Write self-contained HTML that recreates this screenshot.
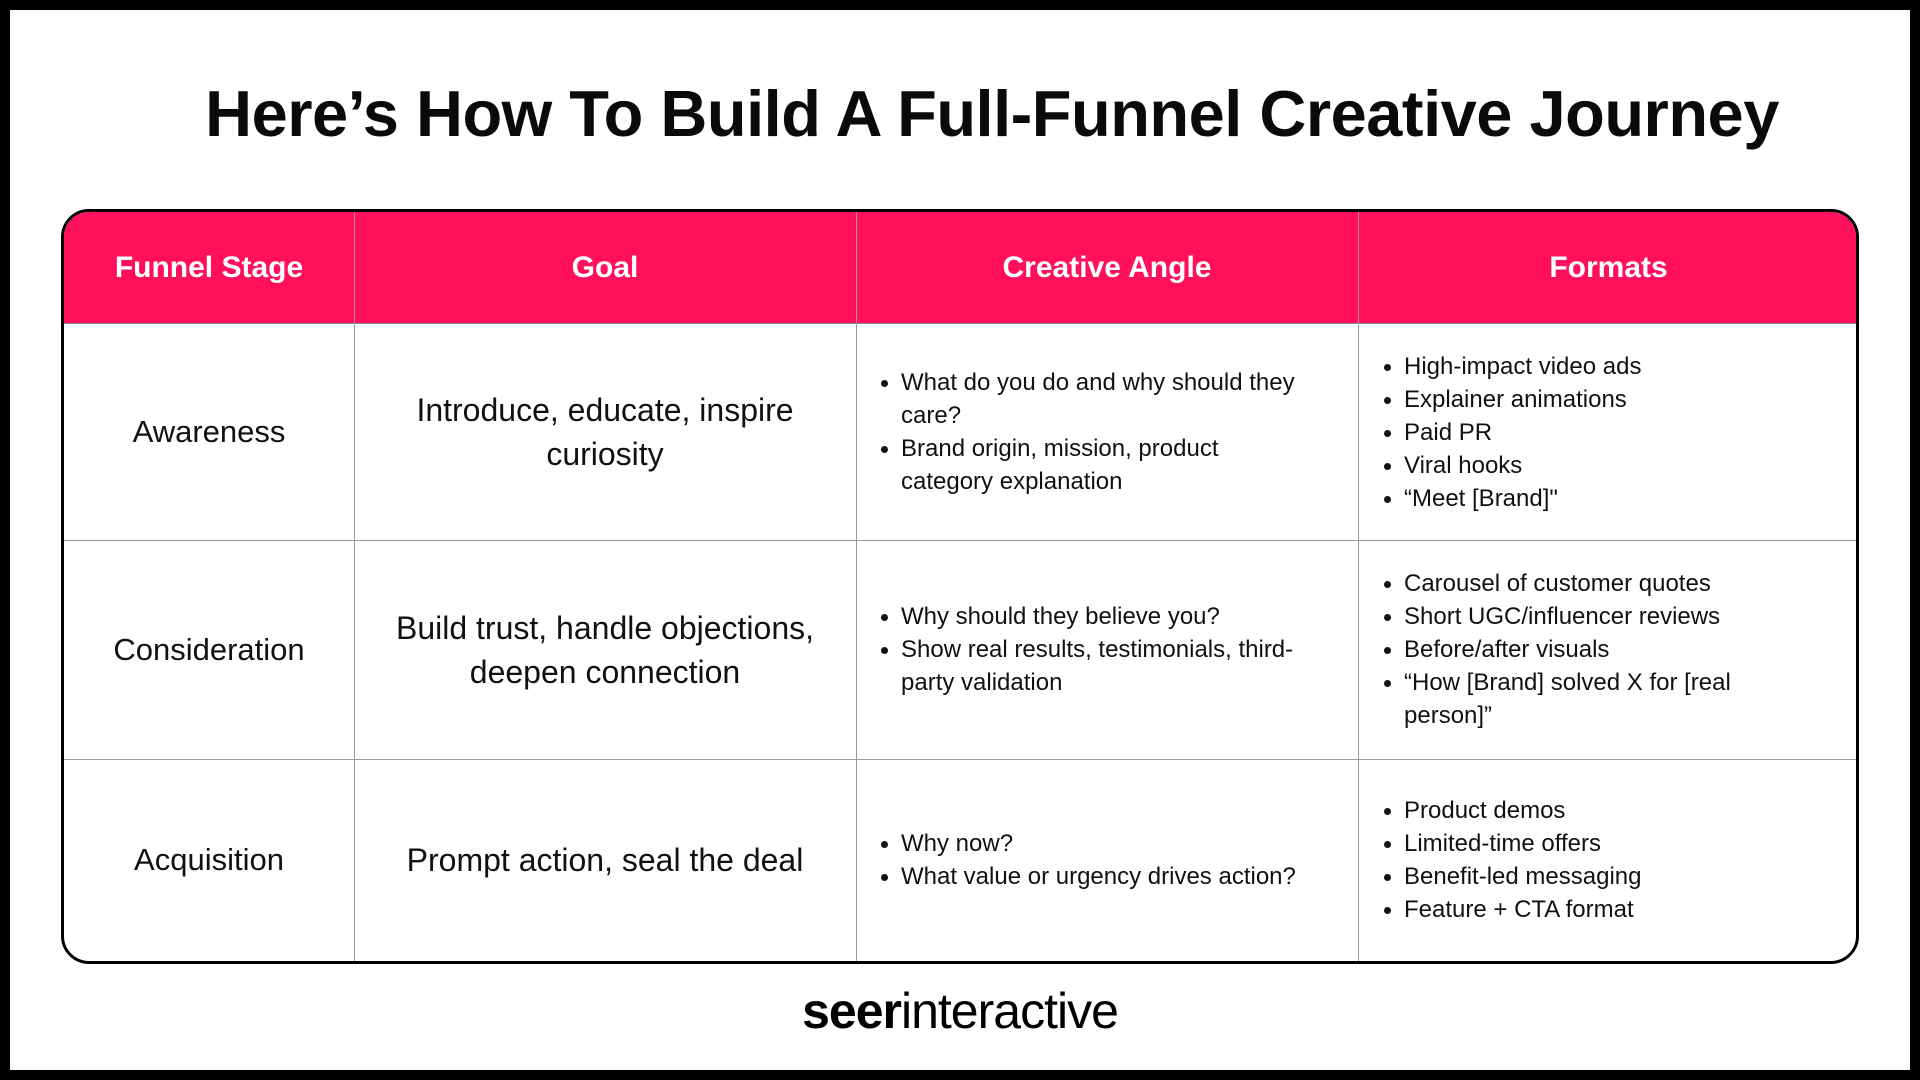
<!DOCTYPE html>
<html><head><meta charset="utf-8"><style>
*{margin:0;padding:0;box-sizing:border-box}
html,body{width:1920px;height:1080px;overflow:hidden;background:#fff}
body{position:relative;font-family:"Liberation Sans",sans-serif;color:#111}
.frame{position:absolute;left:0;top:0;width:1920px;height:1080px;border:10px solid #000}
h1{position:absolute;left:32px;width:1920px;top:76px;text-align:center;font-size:65px;font-weight:700;letter-spacing:-0.5px;color:#0a0a0a}
.tbl{position:absolute;left:61px;top:209px;width:1798px;height:755px;border:3px solid #000;border-radius:28px;overflow:hidden;background:#fff}
.hdr{position:absolute;left:0;top:0;width:100%;height:112px;background:#ff0f5c;border-bottom:1px solid #888}
.c{position:absolute;display:flex;align-items:center;justify-content:center;text-align:center}
.h{color:#fff;font-weight:700;font-size:30px;top:0;height:112px}
.vl{position:absolute;top:0;bottom:0;width:1px;background:#999}
.hl{position:absolute;left:0;right:0;height:1px;background:#999}
.st{font-size:31px}
.goal{font-size:32px;line-height:44px}
ul{list-style:none;text-align:left;font-size:24px;line-height:33px}
li{position:relative;padding-left:22px}
li:before{content:"";position:absolute;left:2px;top:14px;width:7px;height:7px;border-radius:50%;background:#111}
.l{justify-content:flex-start}
.logo{position:absolute;left:0;width:1920px;top:982px;text-align:center;font-size:50px;letter-spacing:-1px;color:#000}
</style></head><body>
<div class="frame"></div>
<h1>Here’s How To Build A Full-Funnel Creative Journey</h1>
<div class="tbl">
 <div class="hdr"></div>
 <div class="vl" style="left:290px"></div>
 <div class="vl" style="left:792px"></div>
 <div class="vl" style="left:1294px"></div>
 <div class="hl" style="top:328px"></div>
 <div class="hl" style="top:547px"></div>
 <div class="c h" style="left:0;width:290px">Funnel Stage</div>
 <div class="c h" style="left:290px;width:502px">Goal</div>
 <div class="c h" style="left:792px;width:502px">Creative Angle</div>
 <div class="c h" style="left:1294px;width:501px">Formats</div>

 <div class="c st" style="left:0;width:290px;top:112px;height:216px">Awareness</div>
 <div class="c goal" style="left:290px;width:502px;top:112px;height:216px">Introduce, educate, inspire<br>curiosity</div>
 <div class="c l" style="left:815px;width:460px;top:112px;height:216px"><ul style="width:425px"><li>What do you do and why should they care?</li><li>Brand origin, mission, product category explanation</li></ul></div>
 <div class="c l" style="left:1318px;width:470px;top:112px;height:216px"><ul><li>High-impact video ads</li><li>Explainer animations</li><li>Paid PR</li><li>Viral hooks</li><li>“Meet [Brand]"</li></ul></div>

 <div class="c st" style="left:0;width:290px;top:328px;height:219px">Consideration</div>
 <div class="c goal" style="left:290px;width:502px;top:328px;height:219px">Build trust, handle objections,<br>deepen connection</div>
 <div class="c l" style="left:815px;width:460px;top:328px;height:219px"><ul style="width:455px"><li>Why should they believe you?</li><li>Show real results, testimonials, third-party validation</li></ul></div>
 <div class="c l" style="left:1318px;width:440px;top:328px;height:219px"><ul style="width:420px"><li>Carousel of customer quotes</li><li>Short UGC/influencer reviews</li><li>Before/after visuals</li><li>“How [Brand] solved X for [real person]”</li></ul></div>

 <div class="c st" style="left:0;width:290px;top:547px;height:202px">Acquisition</div>
 <div class="c goal" style="left:290px;width:502px;top:547px;height:202px">Prompt action, seal the deal</div>
 <div class="c l" style="left:815px;width:470px;top:547px;height:202px"><ul><li>Why now?</li><li>What value or urgency drives action?</li></ul></div>
 <div class="c l" style="left:1318px;width:470px;top:547px;height:202px"><ul><li>Product demos</li><li>Limited-time offers</li><li>Benefit-led messaging</li><li>Feature + CTA format</li></ul></div>
</div>
<div class="logo"><b>seer</b>interactive</div>
</body></html>
